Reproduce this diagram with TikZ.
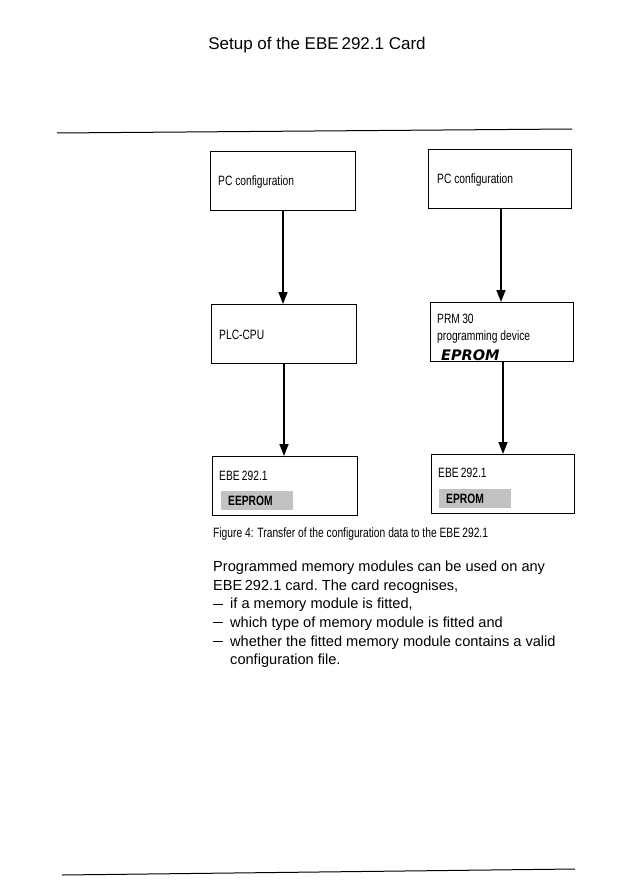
\documentclass[tikz,border=0pt]{standalone}
\usepackage{fontspec}
\setmainfont{Liberation Sans}
\newfontfamily\condfont[FakeStretch=0.76]{Liberation Sans}
\newfontfamily\handfont{DejaVu Sans}
\usetikzlibrary{arrows.meta}
\definecolor{shade}{gray}{0.76}
\tikzset{
  box/.style={draw, line width=1pt, inner sep=0pt},
  flow/.style={line width=1.6pt, -{Triangle[width=9pt,length=12pt]}},
  boxtext/.style={anchor=base west, inner sep=0pt, font=\condfont\fontsize{13.5}{16}\selectfont},
  chip/.style={fill=shade, inner sep=0pt, anchor=north west},
  rule/.style={line width=1pt},
}
\newcommand{\itemdash}{\makebox[17pt][l]{\rule[4.2pt]{10pt}{1pt}}}
\begin{document}
\begin{tikzpicture}[x=1pt,y=-1pt]
\useasboundingbox (0,0) rectangle (630,893);
% title
\node[inner sep=0pt, anchor=base, font=\fontsize{17}{20}\selectfont] (title) at (317,50) {Setup of the EBE\,292.1 Card};
% rule
\coordinate (r1) at (57,133);
\coordinate (r2) at (572,129);
\draw[rule] (r1) -- (r2);
% boxes
\node[box, minimum width=145pt, minimum height=59pt, anchor=north west] (b1) at (210,151) {};
\node[box, minimum width=143pt, minimum height=59pt, anchor=north west] (b2) at (428,149) {};
\node[box, minimum width=145pt, minimum height=59pt, anchor=north west] (b3) at (211,304) {};
\node[box, minimum width=143pt, minimum height=59pt, anchor=north west] (b4) at (430,302) {};
\node[box, minimum width=145pt, minimum height=59pt, anchor=north west] (b5) at (212,456) {};
\node[box, minimum width=143pt, minimum height=59pt, anchor=north west] (b6) at (431,454) {};
% arrows
\draw[flow] (b1.south -| 283,0) -- (b3.north -| 283,0);
\draw[flow] (b2.south -| 501,0) -- (b4.north -| 501,0);
\draw[flow] (b3.south -| 284,0) -- (b5.north -| 284,0);
\draw[flow] (b4.south -| 503,0) -- (b6.north -| 503,0);
% box texts
\node[boxtext] (t1) at (218,186) {PC configuration};
\node[boxtext] (t2) at (437,184) {PC configuration};
\node[boxtext] (t3) at (219,339) {PLC-CPU};
\node[boxtext] (t4a) at (437,323) {PRM\,30};
\node[boxtext] (t4b) at (437,340) {programming device};
\node[inner sep=0pt, anchor=base west, font=\handfont\bfseries\itshape\fontsize{14.5}{16}\selectfont] (t4c) at (441,360) {EPROM};
\node[boxtext] (t5) at (219,480) {EBE\,292.1};
\node[boxtext] (t6) at (438,477) {EBE\,292.1};
% memory chips
\node[chip, minimum width=72pt, minimum height=19pt] (c5) at (221,491) {};
\node[inner sep=0pt, anchor=base west, font=\condfont\bfseries\fontsize{13.5}{16}\selectfont] (c5t) at (228,505) {EEPROM};
\node[chip, minimum width=72pt, minimum height=19pt] (c6) at (439,489) {};
\node[inner sep=0pt, anchor=base west, font=\condfont\bfseries\fontsize{13.5}{16}\selectfont] (c6t) at (446,503) {EPROM};
% caption
\node[boxtext] (cap) at (213,537) {Figure 4: Transfer of the configuration data to the EBE\,292.1};
% paragraph
\node[inner sep=0pt, anchor=north west, align=left, font=\frenchspacing\fontsize{14.6}{18.6}\selectfont] (para) at (213,561) {%
Programmed memory modules can be used on any\\
EBE\,292.1 card. The card recognises,\\
\itemdash if a memory module is fitted,\\
\itemdash which type of memory module is fitted and\\
\itemdash whether the fitted memory module contains a valid\\
\makebox[17pt][l]{}configuration file.};
% footer rule
\coordinate (f1) at (62,875);
\coordinate (f2) at (575,869);
\draw[rule] (f1) -- (f2);
\end{tikzpicture}
\end{document}
